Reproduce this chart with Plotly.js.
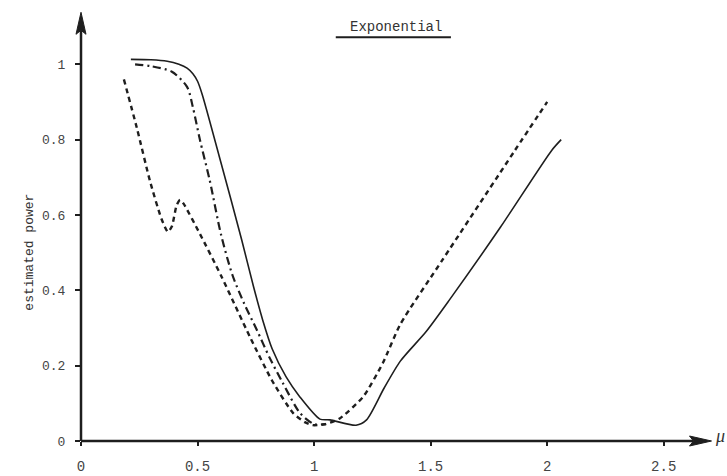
<!DOCTYPE html>
<html>
<head>
<meta charset="utf-8">
<script src="https://cdn.plot.ly/plotly-3.0.1.min.js"></script>
<style>html,body{margin:0;padding:0;background:#fff;}#chart{width:727px;height:476px;}</style>
</head>
<body>
<div id="chart"></div>
<script>
// Solid curve
var solidX = [0.214, 0.30, 0.37, 0.42, 0.455, 0.48, 0.50, 0.52, 0.60, 0.689, 0.74, 0.78, 0.82, 0.88, 0.939, 1.025, 1.068, 1.18, 1.225, 1.30, 1.37, 1.48, 1.58, 1.80, 2.02, 2.06];
var solidY = [1.013, 1.012, 1.008, 1.0, 0.99, 0.975, 0.955, 0.92, 0.74, 0.535, 0.41, 0.32, 0.245, 0.17, 0.117, 0.058, 0.056, 0.042, 0.056, 0.14, 0.212, 0.29, 0.374, 0.568, 0.772, 0.80];
// Dash-dot curve
var dashdotX = [0.232, 0.30, 0.39, 0.455, 0.48, 0.51, 0.553, 0.60, 0.65, 0.70, 0.755, 0.81, 0.866, 0.94, 1.0, 1.05];
var dashdotY = [1.0, 0.995, 0.98, 0.94, 0.886, 0.80, 0.69, 0.55, 0.44, 0.365, 0.294, 0.22, 0.154, 0.074, 0.045, 0.045];
// Dashed curve
var dashedX = [0.184, 0.24, 0.296, 0.345, 0.373, 0.39, 0.41, 0.425, 0.44, 0.51, 0.60, 0.725, 0.82, 0.91, 0.96, 0.995, 1.05, 1.11, 1.21, 1.295, 1.37, 1.55, 1.86, 2.0];
var dashedY = [0.96, 0.83, 0.69, 0.59, 0.555, 0.57, 0.625, 0.64, 0.63, 0.55, 0.44, 0.276, 0.16, 0.074, 0.05, 0.042, 0.045, 0.06, 0.117, 0.207, 0.31, 0.48, 0.77, 0.9];

var xTickVals = [0, 0.5, 1, 1.5, 2, 2.5];
var xTickText = ['0', '0.5', '1', '1.5', '2', '2.5'];
var yTickVals = [0, 0.2, 0.4, 0.6, 0.8, 1];
var yTickText = ['0', '0.2', '0.4', '0.6', '0.8', '1'];

var titleText = 'Exponential';
var yTitleText = 'estimated power';
var xAxisLabel = 'μ';

var ink = '#1e1e1e';
var mono = 'Liberation Mono, DejaVu Sans Mono, monospace';

// axis geometry
var xMax = 2.75, yMax = 1.16;
var plotW = 727 - 81 - 5, plotH = 476 - 4 - 35;
// paper units per pixel
var ppX = 1 / plotW, ppY = 1 / plotH;
var xTipP = 2.705 / xMax, yTipP = 1.138 / yMax;
var headLen = 22, headHalf = 5, headNotch = 18;

function xArrowPath() {
  return 'M' + xTipP + ',0' +
    ' L' + (xTipP - headLen * ppX) + ',' + (headHalf * ppY) +
    ' L' + (xTipP - headNotch * ppX) + ',0' +
    ' L' + (xTipP - headLen * ppX) + ',' + (-headHalf * ppY) + ' Z';
}
function yArrowPath() {
  return 'M0,' + yTipP +
    ' L' + (-headHalf * ppX) + ',' + (yTipP - headLen * ppY) +
    ' L0,' + (yTipP - headNotch * ppY) +
    ' L' + (headHalf * ppX) + ',' + (yTipP - headLen * ppY) + ' Z';
}

var traces = [
  {x: solidX, y: solidY, mode: 'lines', line: {color: ink, width: 1.6, shape: 'spline', smoothing: 0.7}, hoverinfo: 'skip'},
  {x: dashdotX, y: dashdotY, mode: 'lines', line: {color: ink, width: 2.2, dash: '8px,4px,2px,4px', shape: 'spline', smoothing: 0.8}, hoverinfo: 'skip'},
  {x: dashedX, y: dashedY, mode: 'lines', line: {color: ink, width: 2.4, dash: '5px,4px', shape: 'spline', smoothing: 0.6}, hoverinfo: 'skip'}
];

var layout = {
  width: 727, height: 476,
  margin: {l: 81, r: 5, t: 4, b: 35},
  paper_bgcolor: '#ffffff', plot_bgcolor: '#ffffff',
  showlegend: false,
  xaxis: {
    range: [0, xMax], showgrid: false, zeroline: false, showline: false,
    tickvals: xTickVals, ticktext: xTickText,
    ticks: 'outside', ticklen: 4, tickwidth: 2, tickcolor: ink,
    ticklabelstandoff: 8,
    tickfont: {family: mono, size: 14, color: '#444'}
  },
  yaxis: {
    range: [0, yMax], showgrid: false, zeroline: false, showline: false,
    tickvals: yTickVals, ticktext: yTickText,
    ticks: 'outside', ticklen: 5, tickwidth: 2, tickcolor: ink,
    ticklabelstandoff: 7,
    tickfont: {family: mono, size: 13, color: '#444'}
  },
  shapes: [
    {type: 'line', xref: 'paper', yref: 'paper', x0: 0, y0: 0, x1: xTipP - headNotch * ppX, y1: 0, line: {color: ink, width: 2.5}},
    {type: 'line', xref: 'paper', yref: 'paper', x0: 0, y0: 0, x1: 0, y1: yTipP - headNotch * ppY, line: {color: ink, width: 2.5}},
    {type: 'path', xref: 'paper', yref: 'paper', path: xArrowPath(), fillcolor: ink, line: {color: ink, width: 1}},
    {type: 'path', xref: 'paper', yref: 'paper', path: yArrowPath(), fillcolor: ink, line: {color: ink, width: 1}},
    {type: 'line', xref: 'x', yref: 'y', x0: 1.093, y0: 1.072, x1: 1.587, y1: 1.072, line: {color: ink, width: 2}}
  ],
  annotations: [
    {text: titleText, xref: 'x', yref: 'y', x: 1.351, y: 1.098, showarrow: false,
     font: {family: mono, size: 14, color: '#333'}},
    {text: yTitleText, xref: 'paper', yref: 'y', x: (30 - 81) / plotW, xanchor: 'center', y: 0.5, yanchor: 'middle',
     textangle: -90, showarrow: false,
     font: {family: mono, size: 13, color: '#333'}},
    {text: '<i>' + xAxisLabel + '</i>', xref: 'x', yref: 'y', x: 2.712, y: 0.012, xanchor: 'left', showarrow: false,
     font: {family: 'Liberation Serif, serif', size: 18, color: '#333'}}
  ]
};

Plotly.newPlot('chart', traces, layout, {displayModeBar: false, staticPlot: true});
</script>
</body>
</html>
